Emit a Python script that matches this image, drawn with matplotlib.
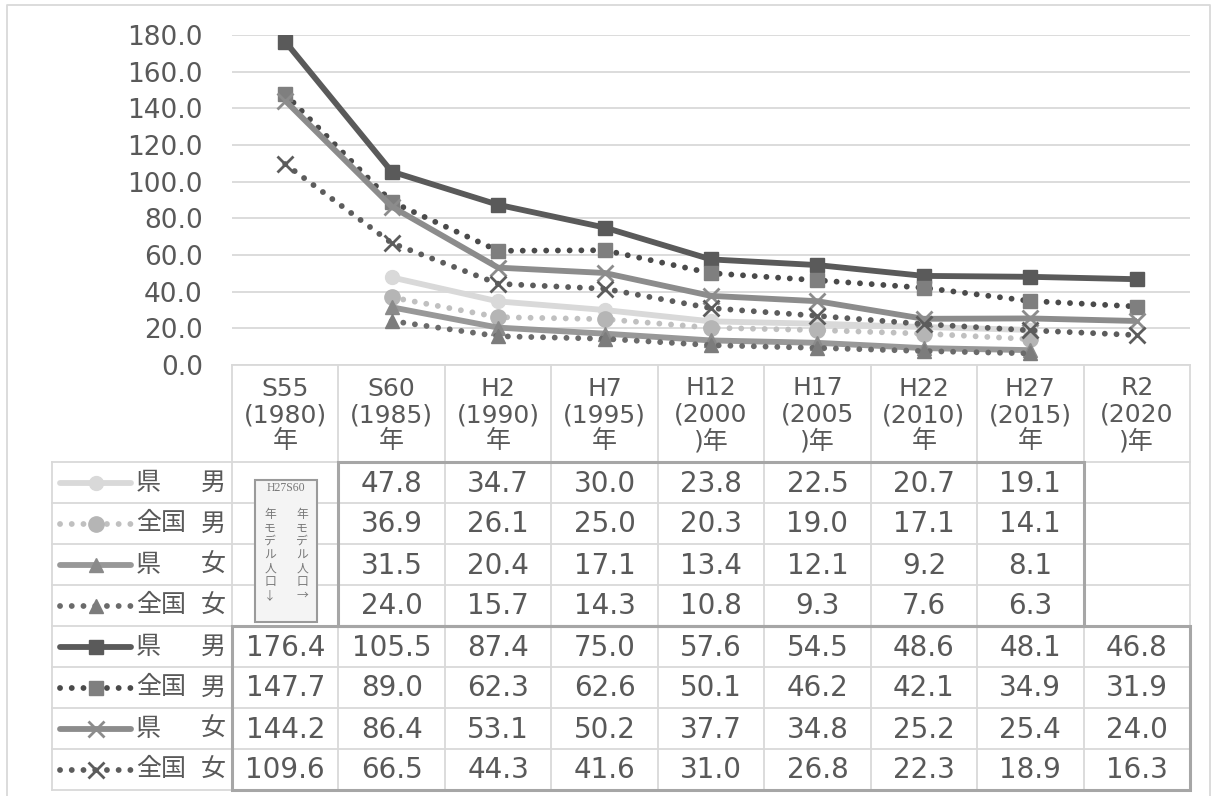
import matplotlib.pyplot as plt
import numpy as np
from matplotlib.patches import Rectangle

plt.rcParams["font.family"] = ["DejaVu Sans", "Noto Sans CJK JP"]

# --- data -------------------------------------------------------------
years = ["S55\n(1980)\n年", "S60\n(1985)\n年", "H2\n(1990)\n年", "H7\n(1995)\n年",
         "H12\n(2000\n)年", "H17\n(2005\n)年", "H22\n(2010)\n年", "H27\n(2015)\n年",
         "R2\n(2020\n)年"]

# S60 model population (S60 .. H27)
s60_ken_m = [47.8, 34.7, 30.0, 23.8, 22.5, 20.7, 19.1]
s60_zen_m = [36.9, 26.1, 25.0, 20.3, 19.0, 17.1, 14.1]
s60_ken_f = [31.5, 20.4, 17.1, 13.4, 12.1, 9.2, 8.1]
s60_zen_f = [24.0, 15.7, 14.3, 10.8, 9.3, 7.6, 6.3]

# H27 model population (S55 .. R2)
h27_ken_m = [176.4, 105.5, 87.4, 75.0, 57.6, 54.5, 48.6, 48.1, 46.8]
h27_zen_m = [147.7, 89.0, 62.3, 62.6, 50.1, 46.2, 42.1, 34.9, 31.9]
h27_ken_f = [144.2, 86.4, 53.1, 50.2, 37.7, 34.8, 25.2, 25.4, 24.0]
h27_zen_f = [109.6, 66.5, 44.3, 41.6, 31.0, 26.8, 22.3, 18.9, 16.3]

row_area = ["県", "全国", "県", "全国", "県", "全国", "県", "全国"]
row_sex = ["男", "男", "女", "女", "男", "男", "女", "女"]

# --- styles -----------------------------------------------------------
DOT = (0, (0.01, 2.0))
styles = [
    dict(color="#d9d9d9", ls="-", marker="o", mfc="#d9d9d9", mec="#d9d9d9", ms=10),
    dict(color="#c0c0c0", ls=DOT, marker="o", mfc="#b5b5b5", mec="#b5b5b5", ms=11),
    dict(color="#989898", ls="-", marker="^", mfc="#8a8a8a", mec="#8a8a8a", ms=10),
    dict(color="#6a6a6a", ls=DOT, marker="^", mfc="#7c7c7c", mec="#7c7c7c", ms=10),
    dict(color="#5a5a5a", ls="-", marker="s", mfc="#5a5a5a", mec="#5a5a5a", ms=10),
    dict(color="#4a4a4a", ls=DOT, marker="s", mfc="#7f7f7f", mec="#7f7f7f", ms=10),
    dict(color="#8c8c8c", ls="-", marker="x", mfc="#8c8c8c", mec="#8c8c8c", ms=11, mew=2),
    dict(color="#5c5c5c", ls=DOT, marker="x", mfc="#5c5c5c", mec="#5c5c5c", ms=11, mew=2),
]

TXT = "#595959"
GRID = "#d9d9d9"
BOX = "#a6a6a6"

W, H = 1217, 796
fig = plt.figure(figsize=(W / 100, H / 100), dpi=100)

# pixel-space layer for the table
tab = fig.add_axes([0, 0, 1, 1])
tab.set_xlim(0, W)
tab.set_ylim(H, 0)
tab.axis("off")

x0, x1 = 232, 1190
y_top, y_axis = 35, 365
colw = (x1 - x0) / len(years)
hdr_bot = 462
row_h = 41
leg_l = 52
n_rows = 8

# chart axes
ax = fig.add_axes([x0 / W, 1 - y_axis / H, (x1 - x0) / W, (y_axis - y_top) / H])
ax.patch.set_alpha(0)
ax.set_xlim(-0.5, len(years) - 0.5)
ax.set_ylim(0, 180)
ax.set_yticks(np.arange(0, 181, 20))
ax.set_yticklabels([f"{v:.1f}" for v in np.arange(0, 181, 20)], fontsize=19, color=TXT)
ax.set_xticks([])
ax.tick_params(axis="y", length=0, pad=21)
for s in ax.spines.values():
    s.set_visible(False)
ax.grid(axis="y", color=GRID, lw=1.3)
ax.set_axisbelow(True)

series = [s60_ken_m, s60_zen_m, s60_ken_f, s60_zen_f,
          h27_ken_m, h27_zen_m, h27_ken_f, h27_zen_f]
for i, vals in enumerate(series):
    st = styles[i]
    xs = np.arange(len(vals)) + (1 if len(vals) < len(years) else 0)
    ax.plot(xs, vals, color=st["color"], ls=st["ls"], lw=4.2,
            dash_capstyle="round", solid_capstyle="butt", zorder=3 + i)
    ax.plot(xs, vals, ls="none", marker=st["marker"], ms=st["ms"],
            mfc=st["mfc"], mec=st["mec"], mew=st.get("mew", 1), zorder=3 + i)

# --- table grid -------------------------------------------------------
tab.plot([x0, x1], [y_axis, y_axis], color=GRID, lw=1.3)
for k in range(len(years) + 1):
    xx = x0 + k * colw
    tab.plot([xx, xx], [y_axis, hdr_bot + n_rows * row_h], color=GRID, lw=1.3)
for r in range(n_rows + 1):
    yy = hdr_bot + r * row_h
    tab.plot([leg_l, x1], [yy, yy], color=GRID, lw=1.3)
tab.plot([leg_l, leg_l], [hdr_bot, hdr_bot + n_rows * row_h], color=GRID, lw=1.3)

# outer frame
tab.plot([7, 7, 1210, 1210], [H, 5, 5, H], color=GRID, lw=1.3)

# header labels
for k, lab in enumerate(years):
    tab.text(x0 + (k + 0.5) * colw, y_axis + 50, lab, ha="center", va="center",
             fontsize=18, color=TXT, linespacing=1.12)

# legend cells
for r in range(n_rows):
    yc = hdr_bot + (r + 0.5) * row_h
    st = styles[r]
    tab.plot([60, 131], [yc, yc], color=st["color"], ls=st["ls"], lw=4.2,
             dash_capstyle="round", solid_capstyle="round")
    tab.plot([95.5], [yc], ls="none", marker=st["marker"], ms=st["ms"],
             mfc=st["mfc"], mec=st["mec"], mew=st.get("mew", 1))
    tab.text(136, yc, row_area[r], ha="left", va="center", fontsize=18, color=TXT)
    tab.text(226, yc, row_sex[r], ha="right", va="center", fontsize=18, color=TXT)

# values
for r, vals in enumerate(series):
    yc = hdr_bot + (r + 0.5) * row_h
    off = 1 if len(vals) < len(years) else 0
    for k, v in enumerate(vals):
        tab.text(x0 + (k + off + 0.5) * colw, yc + 1, f"{v:.1f}", ha="center",
                 va="center", fontsize=20, color=TXT)

# highlighted boxes
tab.add_patch(Rectangle((x0 + colw, hdr_bot), 7 * colw, 4 * row_h,
                        fill=False, ec=BOX, lw=2.2, zorder=5))
tab.add_patch(Rectangle((x0, hdr_bot + 4 * row_h), len(years) * colw, 4 * row_h,
                        fill=False, ec=BOX, lw=2.2, zorder=5))

# small note image box
tab.add_patch(Rectangle((255, 480), 62, 142, fc="#f4f4f4", ec="#9a9a9a", lw=1.5, zorder=6))
tab.text(286, 488, "H27S60", ha="center", va="center", fontsize=8.5,
         family=["Liberation Serif", "Noto Sans CJK JP"], color="#777777", zorder=7)
tab.text(302, 555, "\n".join("年モデル人口→"), ha="center", va="center", fontsize=8.5,
         family=["Noto Sans CJK JP", "DejaVu Sans"], color="#777777",
         linespacing=1.05, zorder=7)
tab.text(270, 555, "\n".join("年モデル人口↓"), ha="center", va="center", fontsize=8.5,
         family=["Noto Sans CJK JP", "DejaVu Sans"], color="#777777",
         linespacing=1.05, zorder=7)

fig.savefig("out.png", dpi=100)
